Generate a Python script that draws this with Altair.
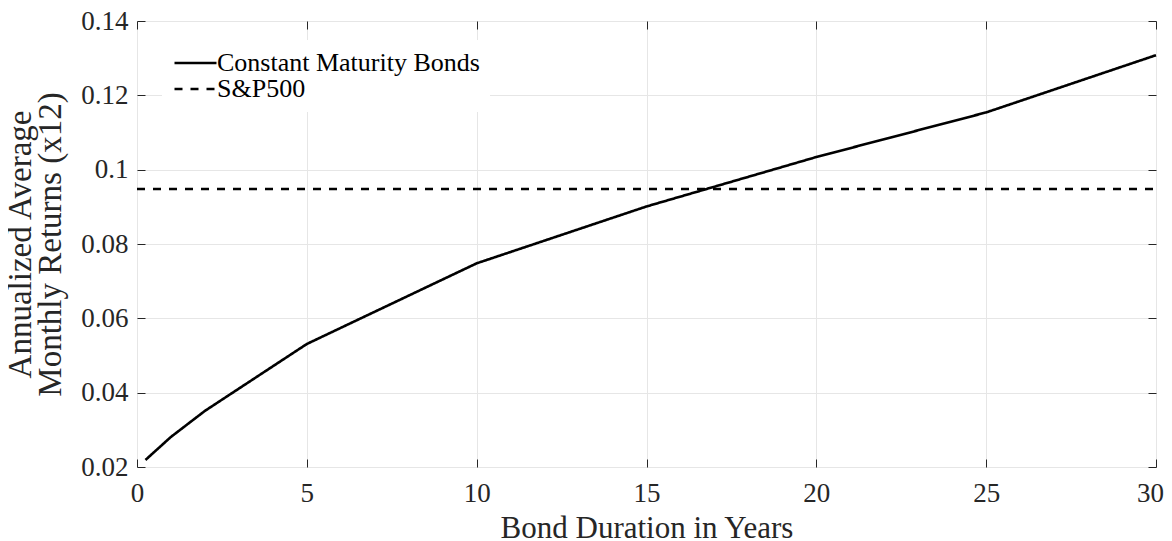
import altair as alt
import pandas as pd

durations = [0.25, 1, 2, 5, 10, 15, 20, 25, 30]
bond_returns = [0.0219, 0.0281, 0.0351, 0.0531, 0.0748, 0.0901, 0.1034, 0.1154, 0.1308]
sp500_return = 0.0948
sp500_span = [0, 30]
series_names = ["Constant Maturity Bonds", "S&P500"]
x_ticks = [0, 5, 10, 15, 20, 25, 30]
y_ticks = [0.02, 0.04, 0.06, 0.08, 0.10, 0.12, 0.14]

rows = [{"d": d, "r": r, "series": series_names[0]} for d, r in zip(durations, bond_returns)]
rows += [{"d": d, "r": sp500_return, "series": series_names[1]} for d in sp500_span]
df = pd.DataFrame(rows)

FONT = "Liberation Serif"
FRAME = "#262626"
GRID = "#e6e6e6"

xs = alt.Scale(domain=[0, 30], nice=False, zero=False)
ys = alt.Scale(domain=[0.02, 0.14], nice=False, zero=False)

main = alt.Chart(df).mark_line(color="black", strokeWidth=2.6).encode(
    x=alt.X("d:Q", scale=xs, axis=alt.Axis(
        orient="bottom", values=x_ticks, title="Bond Duration in Years", grid=True,
        gridColor=GRID, tickSize=0, domain=False, labelPadding=13, titlePadding=7,
        labelFlush=False, labelFont=FONT, labelFontSize=27, labelColor=FRAME, titleFont=FONT,
        titleFontSize=31, titleFontWeight="normal", titleColor=FRAME, format="d",
        labelOffset={"condition": {"test": "datum.value == 30", "value": -6}, "value": 0})),
    y=alt.Y("r:Q", scale=ys, axis=alt.Axis(
        orient="left", values=y_ticks, title=["Annualized Average", "Monthly Returns (x12)"],
        grid=True, gridColor=GRID, tickSize=0, domain=False, labelPadding=9, titlePadding=13,
        labelFlush=False, labelFont=FONT, labelFontSize=27, labelColor=FRAME, titleFont=FONT,
        titleFontSize=33, titleFontWeight="normal", titleColor=FRAME,
        titleLineHeight=30, labelExpr="format(datum.value, '.2~f')")),
    strokeDash=alt.StrokeDash("series:N", scale=alt.Scale(domain=series_names, range=[[1, 0], [8, 8]]),
        legend=alt.Legend(title=None, orient="none", legendX=25, legendY=19, fillColor="white",
                          padding=10, symbolType="M-1,0H3", symbolSize=441, symbolStrokeWidth=2.6,
                          symbolStrokeColor="black", labelFont=FONT, labelFontSize=26,
                          labelColor="black", labelOffset=19, labelLimit=500, rowPadding=0)),
    order=alt.Order("d:Q"),
)

def tick_layer(xorient, yorient):
    return alt.Chart(df).mark_point(opacity=0, size=1).encode(
        x=alt.X("d:Q", scale=xs, axis=alt.Axis(
            orient=xorient, values=x_ticks, labels=False, title=None, grid=False, domain=False,
            ticks=True, tickSize=8, offset=-8, tickColor=FRAME, tickWidth=1)),
        y=alt.Y("r:Q", scale=ys, axis=alt.Axis(
            orient=yorient, values=y_ticks, labels=False, title=None, grid=False, domain=False,
            ticks=True, tickSize=8, offset=-8, tickColor=FRAME, tickWidth=1)),
    )

chart = alt.layer(main, tick_layer("bottom", "left"), tick_layer("top", "right")).resolve_axis(
    x="independent", y="independent"
).properties(
    width=1019, height=446, autosize="none",
    padding={"left": 129, "top": 13, "right": 8, "bottom": 74},
).configure_view(stroke=FRAME, strokeWidth=1).configure(background="white")

chart.save("out.html", embed_options={"renderer": "svg", "actions": False})
